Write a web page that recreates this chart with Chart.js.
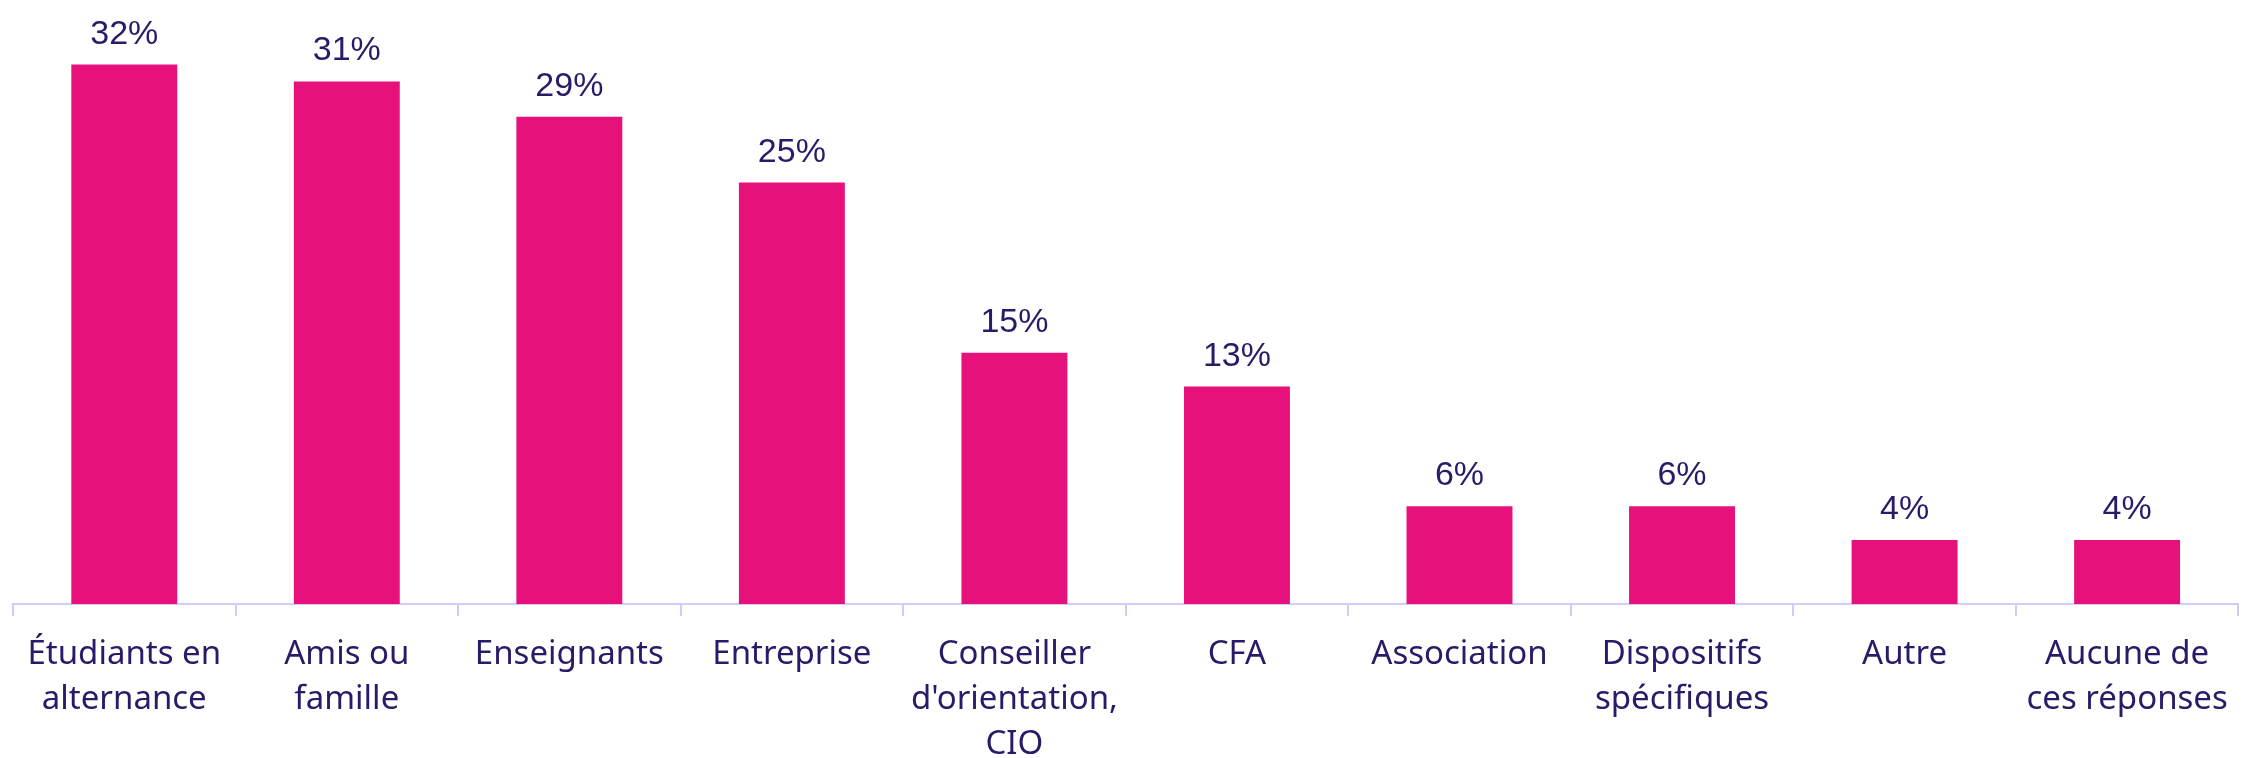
<!DOCTYPE html>
<html lang="fr">
<head>
    <meta charset="UTF-8">
    <title>Sources d'information</title>
    <script src="https://cdn.jsdelivr.net/npm/chart.js"></script>
    <style>
        html, body { margin: 0; padding: 0; background: #fff; }
        #box { width: 2244px; height: 758px; }
    </style>
</head>
<body>
    <div id="box">
        <canvas id="sourcesChart" width="2244" height="758"></canvas>
    </div>
    <script>
        // categories and values
        const categories = [
            ['Étudiants en', 'alternance'],
            ['Amis ou', 'famille'],
            'Enseignants',
            'Entreprise',
            ['Conseiller', "d'orientation,", 'CIO'],
            'CFA',
            'Association',
            ['Dispositifs', 'spécifiques'],
            'Autre',
            ['Aucune de', 'ces réponses']
        ];
        const shares = [32, 31, 28.9, 25, 14.9, 12.9, 5.8, 5.8, 3.8, 3.8];

        const pink = '#E6117B';
        const ink = '#2B1A68';
        const axisColor = '#D4CCF5';

        // draws the "32%" labels above each bar
        const barValues = {
            id: 'barValues',
            afterDatasetsDraw(chart) {
                const ctx = chart.ctx;
                const meta = chart.getDatasetMeta(0);
                ctx.save();
                ctx.fillStyle = ink;
                ctx.font = '34px "Liberation Sans", Arial, sans-serif';
                ctx.textAlign = 'center';
                ctx.textBaseline = 'alphabetic';
                meta.data.forEach((bar, i) => {
                    ctx.fillText(Math.round(shares[i]) + '%', bar.x, bar.y - 21);
                });
                ctx.restore();
            }
        };

        new Chart(document.getElementById('sourcesChart'), {
            type: 'bar',
            data: {
                labels: categories,
                datasets: [{
                    data: shares,
                    backgroundColor: pink,
                    borderWidth: 0,
                    categoryPercentage: 1,
                    barPercentage: 0.476
                }]
            },
            options: {
                responsive: false,
                animation: false,
                layout: { padding: { top: 14, left: 13, right: 5, bottom: -25 } },
                plugins: {
                    legend: { display: false },
                    tooltip: { enabled: false }
                },
                scales: {
                    x: {
                        grid: {
                            offset: true,
                            drawOnChartArea: false,
                            drawTicks: true,
                            tickLength: 12,
                            color: axisColor,
                            lineWidth: 2
                        },
                        border: { color: axisColor, width: 2 },
                        ticks: {
                            color: ink,
                            maxRotation: 0,
                            autoSkip: false,
                            padding: 16,
                            font: { family: '"Noto Sans"', size: 33, lineHeight: 1.364 }
                        }
                    },
                    y: {
                        display: false,
                        min: 0,
                        max: 35
                    }
                }
            },
            plugins: [barValues]
        });
    </script>
</body>
</html>
